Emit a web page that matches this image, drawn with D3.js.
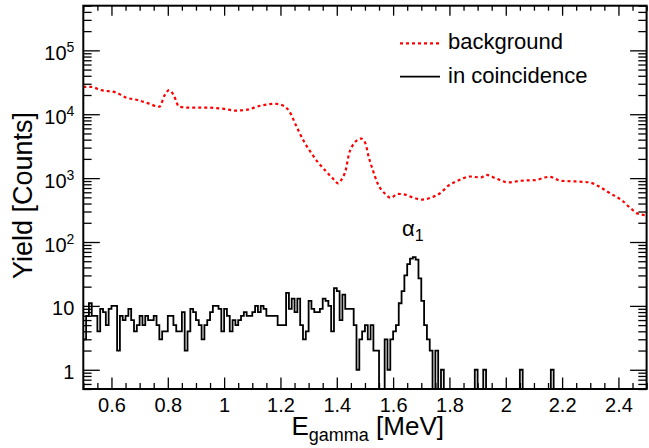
<!DOCTYPE html>
<html><head><meta charset="utf-8">
<script src="https://cdn.jsdelivr.net/npm/d3@7"></script>
<style>
html,body{margin:0;padding:0;background:#fff;}
svg{display:block;font-family:"Liberation Sans",Arial,Helvetica,sans-serif;}
</style></head><body>
<svg id="chart" width="649" height="448"></svg>
<script>
// ---- data ----
// coincidence histogram: 200 bins of 0.01 MeV starting at 0.5 MeV
const binLowEdge = 0.5;
const binWidth = 0.01;
const counts = [
  3,7,11,7,7,4,9,8,5,9,
  10,10,2,7,6,7,9,6,4,5,
  7,5,7,6,6,7,5,3,4,4,
  7,7,5,4,4,8,2,4,9,8,
  6,5,3,5,6,8,10,10,9,4,
  9,7,4,6,5,6,7,8,7,7,
  8,10,8,10,9,7,7,7,7,5,
  5,5,16,9,13,8,13,5,3,4,
  12,9,8,8,9,13,12,10,4,19,
  17,6,15,9,9,9,5,1,3,4,
  5,3,5,2,2,0,0,3,1,3,
  4,5,11,17,30,45,55,58,53,27,
  12,5,3,2,0,2,0,1,0,0,
  0,0,0,0,0,0,0,0,0,1,
  0,0,1,0,0,0,0,0,0,0,
  0,0,0,0,0,1,0,0,0,0,
  0,0,0,0,0,0,1,0,0,0,
  0,0,0,0,0,0,0,0,0,0,
  0,0,0,0,0,0,0,0,0,0,
  0,0,0,0,0,0,0,0,0,0
];
// background spectrum
const bgEnergy = [0.50,0.526,0.564,0.616,0.654,0.693,0.731,0.770,0.789,0.805,0.821,0.840,0.872,0.936,1.001,1.039,1.078,1.129,1.180,1.212,1.232,1.257,1.283,1.309,1.334,1.360,1.386,1.405,1.418,1.431,1.443,1.463,1.486,1.501,1.514,1.527,1.546,1.572,1.591,1.617,1.642,1.668,1.700,1.732,1.771,1.796,1.835,1.873,1.912,1.931,1.963,2.008,2.053,2.104,2.156,2.194,2.246,2.297,2.336,2.374,2.413,2.445,2.470,2.50];
const bgYield = [26800,26800,23800,21900,18100,16700,14800,13100,19900,23800,19900,13100,12700,12700,12100,11400,11700,13600,14600,13500,11000,6440,3780,2490,1750,1300,988,827,966,1300,2350,3560,4160,3560,2090,1380,807,566,491,566,553,502,462,491,600,760,931,1060,1024,1126,1000,857,910,931,1050,910,888,857,718,566,446,332,277,262];
// ticks & labels
const xMajorTicks = [0.6,0.8,1.0,1.2,1.4,1.6,1.8,2.0,2.2,2.4];
const xTickLabels = ["0.6","0.8","1","1.2","1.4","1.6","1.8","2","2.2","2.4"];
const yMajorTicks = [1,10,100,1000,10000,100000];
const yTickBase = ["1","10","10","10","10","10"];
const yTickExp = ["","","2","3","4","5"];
const legendLabels = ["background","in coincidence"];
const peakLabel = {text:"α", sub:"1", energy:1.67, yieldPos:125};

// ---- layout ----
const L = 83.3, R = 646.6, T = 5.7, B = 389;
const svg = d3.select("#chart");
const x = d3.scaleLinear().domain([0.5, 2.5]).range([L, R]);
const y = d3.scaleLog().domain([0.5, 5e5]).range([B, T]);

svg.append("defs").append("clipPath").attr("id","clip")
  .append("rect").attr("x",L).attr("y",T).attr("width",R-L).attr("height",B-T);

// minor tick values
const xMinor = d3.range(0, 41).map(k => +(0.5 + k*0.05).toFixed(3))
  .filter(v => !xMajorTicks.some(m => Math.abs(m - v) < 1e-6));
const yMinor = [];
[0.1,1,10,100,1000,10000,100000].forEach(d => {
  for (let m = 2; m <= 9; m++) { const v = m*d; if (v >= 0.5 - 1e-9 && v <= 5e5 + 1e-6) yMinor.push(v); }
});

function styleAxis(g){
  g.select(".domain").remove();
  g.selectAll(".tick line").attr("stroke","#000").attr("stroke-width",1.3);
}

// bottom axis
svg.append("g").attr("transform",`translate(0,${B})`)
  .call(d3.axisBottom(x).tickValues(xMajorTicks).tickSize(-11.5).tickSizeOuter(0)
    .tickFormat((d,i)=>xTickLabels[i]))
  .call(styleAxis)
  .call(g => g.selectAll("text").attr("y",22.7).attr("dy",null)
    .attr("font-size",20).attr("fill","#000").attr("font-family","Liberation Sans, Arial, sans-serif"));
svg.append("g").attr("transform",`translate(0,${B})`)
  .call(d3.axisBottom(x).tickValues(xMinor).tickSize(-6).tickSizeOuter(0).tickFormat(""))
  .call(styleAxis);
// top axis
svg.append("g").attr("transform",`translate(0,${T})`)
  .call(d3.axisTop(x).tickValues(xMajorTicks).tickSize(-10).tickSizeOuter(0).tickFormat(""))
  .call(styleAxis);
svg.append("g").attr("transform",`translate(0,${T})`)
  .call(d3.axisTop(x).tickValues(xMinor).tickSize(-5).tickSizeOuter(0).tickFormat(""))
  .call(styleAxis);
// left axis
svg.append("g").attr("transform",`translate(${L},0)`)
  .call(d3.axisLeft(y).tickValues(yMajorTicks).tickSize(-16.5).tickSizeOuter(0).tickPadding(9)
    .tickFormat((d,i)=>yTickBase[i]))
  .call(styleAxis)
  .call(g => g.selectAll("text").each(function(d,i){
      const t = d3.select(this);
      t.attr("dy",null).attr("x",-9).attr("y", yTickExp[i] ? 9.5 : 8.5)
       .attr("font-size",20).attr("fill","#000").attr("text-anchor","end")
       .attr("font-family","Liberation Sans, Arial, sans-serif");
      t.text(null);
      t.append("tspan").text(yTickBase[i]);
      if (yTickExp[i]) t.append("tspan").attr("dy",-8.5).attr("font-size",14).text(yTickExp[i]);
  }));
svg.append("g").attr("transform",`translate(${L},0)`)
  .call(d3.axisLeft(y).tickValues(yMinor).tickSize(-8.3).tickSizeOuter(0).tickFormat(""))
  .call(styleAxis);
// right axis
svg.append("g").attr("transform",`translate(${R},0)`)
  .call(d3.axisRight(y).tickValues(yMajorTicks).tickSize(-16.5).tickSizeOuter(0).tickFormat(""))
  .call(styleAxis);
svg.append("g").attr("transform",`translate(${R},0)`)
  .call(d3.axisRight(y).tickValues(yMinor).tickSize(-8.3).tickSizeOuter(0).tickFormat(""))
  .call(styleAxis);

// background curve
const bgData = bgEnergy.map((e,i)=>({e, v:bgYield[i]}));
svg.append("path").datum(bgData)
  .attr("clip-path","url(#clip)")
  .attr("fill","none").attr("stroke","#ff0000").attr("stroke-width",2.2)
  .attr("stroke-dasharray","3,3")
  .attr("d", d3.line().x(d=>x(d.e)).y(d=>y(d.v)).curve(d3.curveMonotoneX));

// coincidence histogram (step)
const histData = counts.map((c,i)=>({e: binLowEdge + i*binWidth, v:c}));
histData.push({e: binLowEdge + counts.length*binWidth, v: counts[counts.length-1]});
const yMin = y.domain()[0];
svg.append("path").datum(histData)
  .attr("clip-path","url(#clip)")
  .attr("fill","none").attr("stroke","#000").attr("stroke-width",1.8)
  .attr("stroke-linejoin","miter")
  .attr("d", d3.line().x(d=>x(d.e)).y(d=>y(d.v > 0 ? d.v : yMin)).curve(d3.curveStepAfter));

// frame
svg.append("rect").attr("x",L).attr("y",T).attr("width",R-L).attr("height",B-T)
  .attr("fill","none").attr("stroke","#000").attr("stroke-width",2);

// peak annotation
const pk = svg.append("text").attr("x", x(peakLabel.energy)).attr("y", y(peakLabel.yieldPos))
  .attr("text-anchor","middle").attr("fill","#000");
pk.append("tspan").attr("font-size",22).text(peakLabel.text);
pk.append("tspan").attr("font-size",16).attr("dy",5).text(peakLabel.sub);

// legend
const legY = [43.3, 76.7];
const legStyles = [{stroke:"#ff0000", dash:"3,3", w:2.2},{stroke:"#000", dash:null, w:1.8}];
legendLabels.forEach((lab,i)=>{
  svg.append("line").attr("x1",400).attr("x2",440).attr("y1",legY[i]).attr("y2",legY[i])
    .attr("stroke",legStyles[i].stroke).attr("stroke-width",legStyles[i].w)
    .attr("stroke-dasharray",legStyles[i].dash);
  svg.append("text").attr("x",448).attr("y",legY[i]+6).attr("font-size",22)
    .attr("fill","#000").text(lab);
});

// axis titles
const xt = svg.append("text").attr("x",291.5).attr("y",435).attr("fill","#000");
xt.append("tspan").attr("font-size",26).text("E");
xt.append("tspan").attr("font-size",18).attr("dy",6).text("gamma");
xt.append("tspan").attr("font-size",26).attr("dy",-6).text(" [MeV]");

svg.append("text").attr("transform","translate(31.5,112) rotate(-90)")
  .attr("text-anchor","end").attr("font-size",27).attr("fill","#000")
  .text("Yield [Counts]");
</script>
</body></html>
